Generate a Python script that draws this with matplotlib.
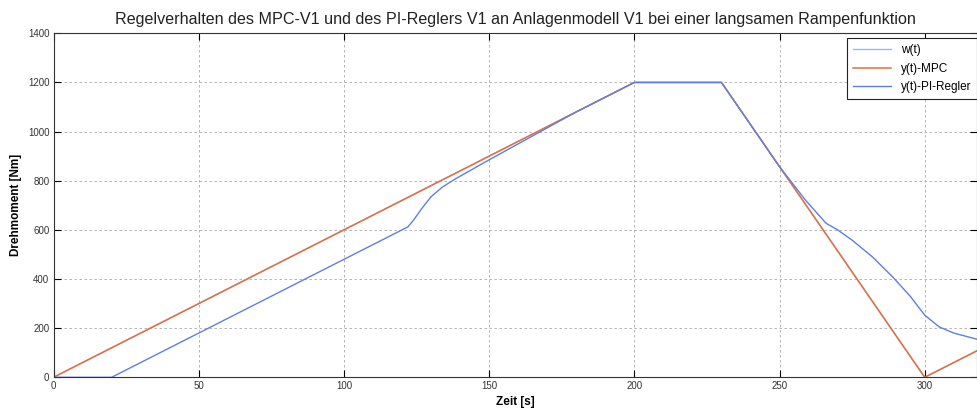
import matplotlib
matplotlib.use("Agg")
import matplotlib.pyplot as plt

# reference ramp w(t) and the two controller responses
w_t = [0, 200, 230, 300, 318]
w_val = [0, 1200, 1200, 0, 108]

mpc_t = [0, 200, 230, 300, 318]
mpc_val = [0, 1200, 1200, 0, 108]

pi_t = [0, 20, 122, 124, 127, 130, 134, 138, 144, 150, 160, 170, 180, 200,
        230, 250, 259, 266, 270, 275, 282, 289, 295, 300, 305, 310, 318]
pi_val = [0, 0, 612, 640, 690, 735, 775, 805, 845, 885, 950, 1015, 1080, 1200,
          1200, 857, 720, 627, 600, 558, 490, 408, 330, 253, 205, 180, 155]

x_ticks = [0, 50, 100, 150, 200, 250, 300]
y_ticks = [0, 200, 400, 600, 800, 1000, 1200, 1400]

plt.rcParams["font.family"] = ["Liberation Sans", "DejaVu Sans"]

fig = plt.figure(figsize=(9.77, 4.09), dpi=100)
ax = fig.add_axes([0.0548, 0.0775, 0.9452, 0.8411])

ax.plot(w_t, w_val, color="#9db8f0", lw=1.0, label="w(t)")
ax.plot(mpc_t, mpc_val, color="#e2703f", lw=1.1, label="y(t)-MPC")
ax.plot(pi_t, pi_val, color="#5f7fe0", lw=1.0, label="y(t)-PI-Regler")

ax.set_xlim(0, 318)
ax.set_ylim(0, 1400)
ax.set_xticks(x_ticks)
ax.set_yticks(y_ticks)
ax.tick_params(direction="in", length=5, width=0.8, labelsize=7,
               labelcolor="#333333", top=True, right=True, pad=3)
ax.grid(True, linestyle=(0, (3, 3)), color="#aaaaaa", linewidth=0.6)
for s in ax.spines.values():
    s.set_linewidth(0.8)
    s.set_color("#333333")

ax.set_title("Regelverhalten des MPC-V1 und des PI-Reglers V1 an Anlagenmodell V1 "
             "bei einer langsamen Rampenfunktion", fontsize=11.6, color="#222222", pad=7)
ax.set_xlabel("Zeit [s]", fontsize=8.5, fontweight="bold", labelpad=3)
ax.set_ylabel("Drehmoment [Nm]", fontsize=8.5, fontweight="bold", labelpad=4)

leg = ax.legend(loc="upper right", bbox_to_anchor=(1.0, 0.985), fontsize=8.5,
                fancybox=False, edgecolor="#222222", framealpha=1,
                borderaxespad=0, handlelength=3.2, labelspacing=0.55,
                borderpad=0.5)
leg.get_frame().set_linewidth(0.8)

fig.savefig("out.png", dpi=100)
